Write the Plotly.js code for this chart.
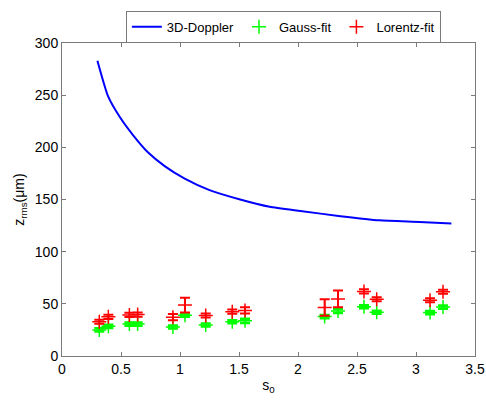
<!DOCTYPE html>
<html><head><meta charset="utf-8">
<script src="https://cdn.plot.ly/plotly-3.0.1.min.js"></script>
<style>html,body{margin:0;padding:0;background:#fff}</style>
</head><body><div id="chart" style="width:486px;height:401px"></div>
<script>
// 3D-Doppler curve
var dopplerS = [0.30, 0.39, 0.49, 0.60, 0.73, 0.87, 1.04, 1.25, 1.51, 1.76, 2.02, 2.36, 2.69, 3.03, 3.30];
var dopplerZ = [283, 249, 229, 212, 195, 182, 170, 159, 150, 143, 139, 134, 130, 128.5, 127];
// Fit results
var fitS = [0.316, 0.393, 0.571, 0.641, 0.94, 1.042, 1.218, 1.443, 1.551, 2.226, 2.339, 2.559, 2.667, 3.119, 3.229];
var gaussZ = [25.0, 28.4, 30.6, 30.6, 27.8, 39.0, 29.7, 32.8, 33.7, 37.8, 43.1, 47.2, 41.9, 41.6, 46.9];
var gaussErr = [1.5, 1.5, 1.5, 1.5, 1.5, 1.5, 1.5, 1.5, 2, 1.5, 2, 1.5, 1.5, 1.5, 1.5];
var lorentzZ = [32.8, 37.5, 39.4, 39.7, 37.2, 48.8, 38.8, 42.5, 43.7, 46.5, 54.7, 61.9, 54.4, 53.4, 61.6];
var lorentzErr = [2, 2, 2, 2, 3, 7, 2, 2, 3, 8, 8, 2, 2, 2, 2];
var xTicks = [0, 0.5, 1, 1.5, 2, 2.5, 3, 3.5];
var yTicks = [0, 50, 100, 150, 200, 250, 300];

var traces = [
  {x: dopplerS, y: dopplerZ, mode: 'lines', name: '3D-Doppler',
   line: {color: '#0000ff', width: 2, shape: 'spline', smoothing: 0.5}},
  {x: fitS, y: gaussZ, mode: 'markers', name: 'Gauss-fit',
   marker: {symbol: 'cross-thin-open', size: 10, color: '#00ff00', line: {color: '#00ff00', width: 1.5}},
   error_y: {type: 'data', array: gaussErr, visible: true, color: '#00ff00', thickness: 2.5, width: 5}},
  {x: fitS, y: lorentzZ, mode: 'markers', name: 'Lorentz-fit',
   marker: {symbol: 'cross-thin-open', size: 10, color: '#ff0000', line: {color: '#ff0000', width: 1.5}},
   error_y: {type: 'data', array: lorentzErr, visible: true, color: '#ff0000', thickness: 2, width: 5}}
];

var axisCommon = {
  showline: true, mirror: 'ticks', linecolor: '#7a7a7a', linewidth: 1,
  ticks: 'inside', ticklen: 4, tickcolor: '#7a7a7a',
  showgrid: false, zeroline: false,
  tickfont: {family: 'Liberation Sans, Arial, sans-serif', size: 14, color: '#000'}
};

var layout = {
  width: 486, height: 401,
  margin: {l: 62, r: 11, t: 36, b: 45},
  paper_bgcolor: '#fff', plot_bgcolor: '#fff',
  font: {family: 'Liberation Sans, Arial, sans-serif', size: 13, color: '#000'},
  xaxis: Object.assign({}, axisCommon, {
    range: [0, 3.5], tickvals: xTicks, ticktext: xTicks.map(String),
    title: {text: 's<sub>0</sub>', font: {size: 14}, standoff: 4}
  }),
  yaxis: Object.assign({}, axisCommon, {
    range: [0, 300], tickvals: yTicks, ticktext: yTicks.map(String),
    title: {text: 'z<sub>rms</sub>(μm)', font: {size: 14}, standoff: 6}
  }),
  showlegend: true,
  legend: {
    orientation: 'h', x: 0.536, xanchor: 'center', y: 1.103, yanchor: 'top',
    bordercolor: '#7a7a7a', borderwidth: 1, bgcolor: '#fff',
    font: {size: 13}, itemwidth: 30, tracegroupgap: 0
  }
};

Plotly.newPlot('chart', traces, layout, {displayModeBar: false, staticPlot: true});
</script>
</body></html>
